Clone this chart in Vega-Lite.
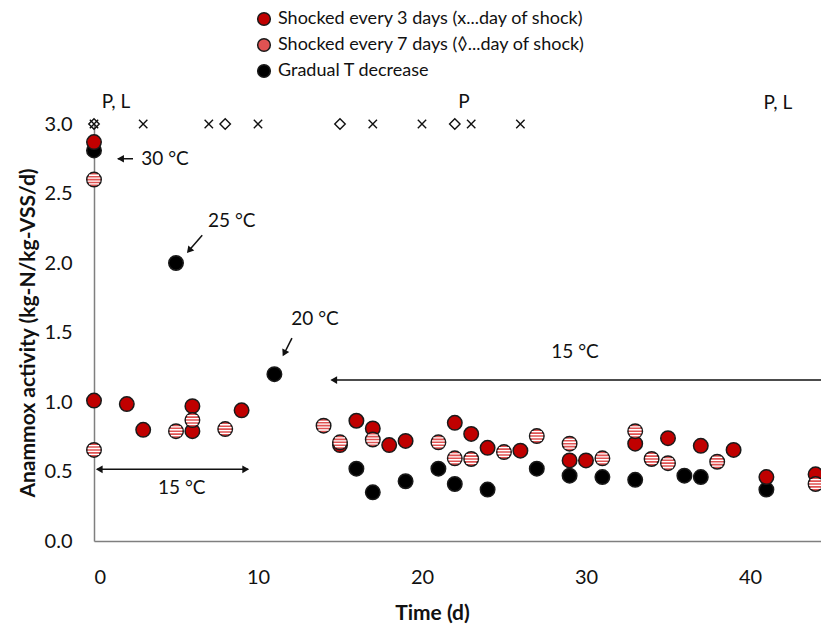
{
  "$schema": "https://vega.github.io/schema/vega-lite/v6.json",
  "width": 727,
  "height": 417,
  "autosize": {"type": "none"},
  "padding": {"left": 94, "top": 124, "right": 0, "bottom": 84},
  "background": "white",
  "config": {
    "font": "Lato",
    "view": {"stroke": null},
    "text": {"font": "Lato", "color": "#111111"}
  },
  "datasets": {
    "points": [
      {"Time": 0, "Activity": 2.87, "Series": "Shocked every 3 days (x...day of shock)"},
      {"Time": 0, "Activity": 1.01, "Series": "Shocked every 3 days (x...day of shock)"},
      {"Time": 2, "Activity": 0.985, "Series": "Shocked every 3 days (x...day of shock)"},
      {"Time": 3, "Activity": 0.80, "Series": "Shocked every 3 days (x...day of shock)"},
      {"Time": 6, "Activity": 0.97, "Series": "Shocked every 3 days (x...day of shock)"},
      {"Time": 6, "Activity": 0.79, "Series": "Shocked every 3 days (x...day of shock)"},
      {"Time": 9, "Activity": 0.94, "Series": "Shocked every 3 days (x...day of shock)"},
      {"Time": 15, "Activity": 0.69, "Series": "Shocked every 3 days (x...day of shock)"},
      {"Time": 16, "Activity": 0.865, "Series": "Shocked every 3 days (x...day of shock)"},
      {"Time": 17, "Activity": 0.81, "Series": "Shocked every 3 days (x...day of shock)"},
      {"Time": 18, "Activity": 0.69, "Series": "Shocked every 3 days (x...day of shock)"},
      {"Time": 19, "Activity": 0.72, "Series": "Shocked every 3 days (x...day of shock)"},
      {"Time": 22, "Activity": 0.85, "Series": "Shocked every 3 days (x...day of shock)"},
      {"Time": 23, "Activity": 0.77, "Series": "Shocked every 3 days (x...day of shock)"},
      {"Time": 24, "Activity": 0.67, "Series": "Shocked every 3 days (x...day of shock)"},
      {"Time": 26, "Activity": 0.65, "Series": "Shocked every 3 days (x...day of shock)"},
      {"Time": 29, "Activity": 0.58, "Series": "Shocked every 3 days (x...day of shock)"},
      {"Time": 30, "Activity": 0.58, "Series": "Shocked every 3 days (x...day of shock)"},
      {"Time": 33, "Activity": 0.70, "Series": "Shocked every 3 days (x...day of shock)"},
      {"Time": 35, "Activity": 0.74, "Series": "Shocked every 3 days (x...day of shock)"},
      {"Time": 37, "Activity": 0.685, "Series": "Shocked every 3 days (x...day of shock)"},
      {"Time": 39, "Activity": 0.655, "Series": "Shocked every 3 days (x...day of shock)"},
      {"Time": 41, "Activity": 0.46, "Series": "Shocked every 3 days (x...day of shock)"},
      {"Time": 44, "Activity": 0.48, "Series": "Shocked every 3 days (x...day of shock)"},
      {"Time": 0, "Activity": 2.60, "Series": "Shocked every 7 days (◊...day of shock)"},
      {"Time": 0, "Activity": 0.655, "Series": "Shocked every 7 days (◊...day of shock)"},
      {"Time": 5, "Activity": 0.79, "Series": "Shocked every 7 days (◊...day of shock)"},
      {"Time": 6, "Activity": 0.87, "Series": "Shocked every 7 days (◊...day of shock)"},
      {"Time": 8, "Activity": 0.805, "Series": "Shocked every 7 days (◊...day of shock)"},
      {"Time": 14, "Activity": 0.83, "Series": "Shocked every 7 days (◊...day of shock)"},
      {"Time": 15, "Activity": 0.71, "Series": "Shocked every 7 days (◊...day of shock)"},
      {"Time": 17, "Activity": 0.73, "Series": "Shocked every 7 days (◊...day of shock)"},
      {"Time": 21, "Activity": 0.71, "Series": "Shocked every 7 days (◊...day of shock)"},
      {"Time": 22, "Activity": 0.595, "Series": "Shocked every 7 days (◊...day of shock)"},
      {"Time": 23, "Activity": 0.59, "Series": "Shocked every 7 days (◊...day of shock)"},
      {"Time": 25, "Activity": 0.64, "Series": "Shocked every 7 days (◊...day of shock)"},
      {"Time": 27, "Activity": 0.755, "Series": "Shocked every 7 days (◊...day of shock)"},
      {"Time": 29, "Activity": 0.70, "Series": "Shocked every 7 days (◊...day of shock)"},
      {"Time": 31, "Activity": 0.595, "Series": "Shocked every 7 days (◊...day of shock)"},
      {"Time": 33, "Activity": 0.79, "Series": "Shocked every 7 days (◊...day of shock)"},
      {"Time": 34, "Activity": 0.59, "Series": "Shocked every 7 days (◊...day of shock)"},
      {"Time": 35, "Activity": 0.56, "Series": "Shocked every 7 days (◊...day of shock)"},
      {"Time": 38, "Activity": 0.57, "Series": "Shocked every 7 days (◊...day of shock)"},
      {"Time": 44, "Activity": 0.41, "Series": "Shocked every 7 days (◊...day of shock)"},
      {"Time": 0, "Activity": 2.81, "Series": "Gradual T decrease"},
      {"Time": 5, "Activity": 2.00, "Series": "Gradual T decrease"},
      {"Time": 11, "Activity": 1.20, "Series": "Gradual T decrease"},
      {"Time": 16, "Activity": 0.52, "Series": "Gradual T decrease"},
      {"Time": 17, "Activity": 0.35, "Series": "Gradual T decrease"},
      {"Time": 19, "Activity": 0.43, "Series": "Gradual T decrease"},
      {"Time": 21, "Activity": 0.52, "Series": "Gradual T decrease"},
      {"Time": 22, "Activity": 0.41, "Series": "Gradual T decrease"},
      {"Time": 24, "Activity": 0.37, "Series": "Gradual T decrease"},
      {"Time": 27, "Activity": 0.52, "Series": "Gradual T decrease"},
      {"Time": 29, "Activity": 0.47, "Series": "Gradual T decrease"},
      {"Time": 31, "Activity": 0.46, "Series": "Gradual T decrease"},
      {"Time": 33, "Activity": 0.44, "Series": "Gradual T decrease"},
      {"Time": 36, "Activity": 0.47, "Series": "Gradual T decrease"},
      {"Time": 37, "Activity": 0.46, "Series": "Gradual T decrease"},
      {"Time": 41, "Activity": 0.37, "Series": "Gradual T decrease"}
    ],
    "shocks": [
      {"Time": 0, "Activity": 3.0, "Type": "3d"},
      {"Time": 3, "Activity": 3.0, "Type": "3d"},
      {"Time": 7, "Activity": 3.0, "Type": "3d"},
      {"Time": 10, "Activity": 3.0, "Type": "3d"},
      {"Time": 17, "Activity": 3.0, "Type": "3d"},
      {"Time": 20, "Activity": 3.0, "Type": "3d"},
      {"Time": 23, "Activity": 3.0, "Type": "3d"},
      {"Time": 26, "Activity": 3.0, "Type": "3d"},
      {"Time": 0, "Activity": 3.0, "Type": "7d"},
      {"Time": 8, "Activity": 3.0, "Type": "7d"},
      {"Time": 15, "Activity": 3.0, "Type": "7d"},
      {"Time": 22, "Activity": 3.0, "Type": "7d"}
    ],
    "labels": [
      {"Time": 1.34, "Activity": 3.16, "Label": "P, L"},
      {"Time": 22.56, "Activity": 3.16, "Label": "P"},
      {"Time": 41.7, "Activity": 3.15, "Label": "P, L"},
      {"Time": 4.33, "Activity": 2.75, "Label": "30 °C"},
      {"Time": 8.4, "Activity": 2.30, "Label": "25 °C"},
      {"Time": 13.48, "Activity": 1.60, "Label": "20 °C"},
      {"Time": 29.33, "Activity": 1.36, "Label": "15 °C"},
      {"Time": 5.35, "Activity": 0.38, "Label": "15 °C"}
    ],
    "arrows": [
      {"Time": 2.38, "Activity": 2.75, "Time2": 1.45, "Activity2": 2.75},
      {"Time": 6.6, "Activity": 2.20, "Time2": 5.75, "Activity2": 2.085},
      {"Time": 12.07, "Activity": 1.46, "Time2": 11.56, "Activity2": 1.34},
      {"Time": 44.33, "Activity": 1.158, "Time2": 14.5, "Activity2": 1.158},
      {"Time": 0.2, "Activity": 0.516, "Time2": 9.4, "Activity2": 0.516}
    ],
    "headsLeft": [
      {"Time": 1.62, "Activity": 2.75},
      {"Time": 14.62, "Activity": 1.158},
      {"Time": 0.32, "Activity": 0.516}
    ],
    "headsRight": [
      {"Time": 9.25, "Activity": 0.516}
    ],
    "head25": [
      {"Time": 5.80, "Activity": 2.09}
    ],
    "head20": [
      {"Time": 11.60, "Activity": 1.35}
    ]
  },
  "encoding": {
    "x": {
      "field": "Time", "type": "quantitative",
      "scale": {"domain": [0, 44.33], "nice": false, "zero": false},
      "axis": {
        "values": [0, 10, 20, 30, 40], "format": "d", "grid": false, "ticks": false,
        "domainColor": "#7f7f7f", "domainWidth": 1.5,
        "labelFont": "Lato", "labelFontSize": 20, "labelColor": "#111111", "labelPadding": 26,
        "title": "Time (d)", "titleFont": "Lato", "titleFontSize": 21, "titleFontWeight": "bold",
        "titleColor": "#111111", "titlePadding": 15, "titleX": 338
      }
    },
    "y": {
      "field": "Activity", "type": "quantitative",
      "scale": {"domain": [0, 3], "nice": false, "zero": false},
      "axis": {
        "values": [0, 0.5, 1, 1.5, 2, 2.5, 3], "format": ".1f", "grid": false, "ticks": false,
        "domainColor": "#7f7f7f", "domainWidth": 1.5,
        "labelFont": "Lato", "labelFontSize": 20, "labelColor": "#111111", "labelPadding": 22,
        "title": "Anammox activity (kg-N/kg-VSS/d)", "titleFont": "Lato", "titleFontSize": 21,
        "titleFontWeight": "bold", "titleColor": "#111111", "titlePadding": 6
      }
    }
  },
  "layer": [
    {
      "data": {"name": "arrows"},
      "mark": {"type": "rule", "color": "#111111", "strokeWidth": 1.5},
      "encoding": {"x2": {"field": "Time2"}, "y2": {"field": "Activity2"}}
    },
    {
      "data": {"name": "headsLeft"},
      "mark": {"type": "point", "shape": "triangle-left", "filled": true, "color": "#111111", "opacity": 1, "size": 60}
    },
    {
      "data": {"name": "headsRight"},
      "mark": {"type": "point", "shape": "triangle-right", "filled": true, "color": "#111111", "opacity": 1, "size": 60}
    },
    {
      "data": {"name": "head25"},
      "mark": {"type": "point", "shape": "triangle-down", "angle": 40, "filled": true, "color": "#111111", "opacity": 1, "size": 60}
    },
    {
      "data": {"name": "head20"},
      "mark": {"type": "point", "shape": "triangle-down", "angle": 27, "filled": true, "color": "#111111", "opacity": 1, "size": 60}
    },
    {
      "data": {"name": "shocks"},
      "transform": [{"filter": "datum.Type === '3d'"}],
      "mark": {"type": "point", "shape": "M-1,-1L1,1M1,-1L-1,1", "filled": false, "stroke": "#111111", "strokeWidth": 1.4, "opacity": 1, "size": 70}
    },
    {
      "data": {"name": "shocks"},
      "transform": [{"filter": "datum.Type === '7d'"}],
      "mark": {"type": "point", "shape": "diamond", "filled": false, "stroke": "#111111", "strokeWidth": 1.4, "opacity": 1, "size": 110}
    },
    {
      "data": {"name": "labels"},
      "mark": {"type": "text", "font": "Lato", "fontSize": 19, "color": "#111111", "align": "center", "baseline": "middle"},
      "encoding": {"text": {"field": "Label"}}
    },
    {
      "data": {"name": "points"},
      "mark": {"type": "point", "shape": "circle", "filled": true, "stroke": "#1a1a1a", "strokeWidth": 1.5, "opacity": 1, "strokeOpacity": 1, "fillOpacity": 1, "size": 210},
      "encoding": {
        "fill": {
          "field": "Series", "type": "nominal",
          "scale": {
            "domain": ["Shocked every 3 days (x...day of shock)", "Shocked every 7 days (◊...day of shock)", "Gradual T decrease"],
            "range": ["#C00000", "#E05252", "#000000"]
          },
          "legend": {
            "orient": "none", "legendX": 161, "legendY": -114, "title": null,
            "symbolType": "circle", "symbolSize": 160, "symbolStrokeColor": "#1a1a1a", "symbolStrokeWidth": 1.5,
            "symbolOpacity": 1, "labelFont": "Lato", "labelFontSize": 18, "labelColor": "#111111",
            "labelLimit": 600, "rowPadding": 6, "labelOffset": 5, "padding": 0
          }
        },
        "order": {"field": "Series", "sort": "ascending"}
      }
    },
    {
      "data": {"name": "points"},
      "transform": [{"filter": "datum.Series === 'Shocked every 7 days (◊...day of shock)'"}],
      "mark": {"type": "point", "shape": "M-0.7,-0.6L0.7,-0.6M-0.88,-0.2L0.88,-0.2M-0.88,0.2L0.88,0.2M-0.7,0.6L0.7,0.6", "filled": false, "stroke": "#ffffff", "strokeWidth": 1.3, "opacity": 1, "size": 210}
    }
  ]
}
